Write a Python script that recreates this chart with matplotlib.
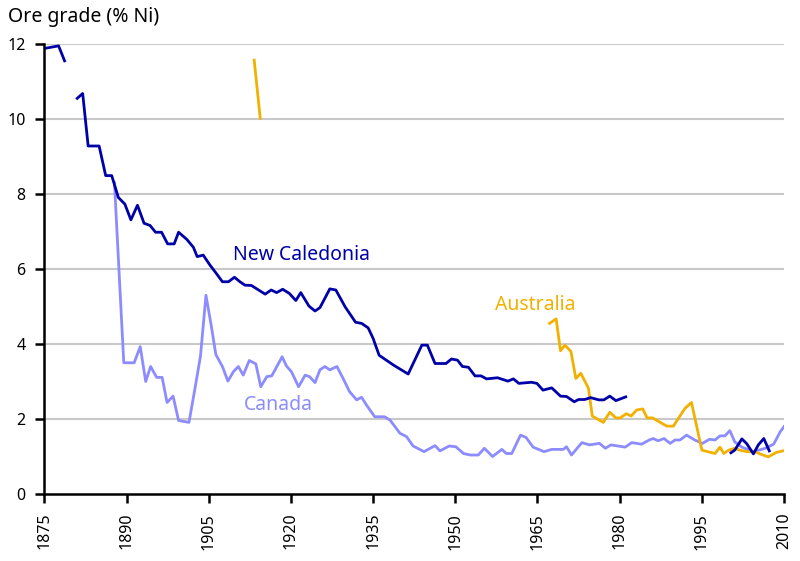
import numpy as np
import matplotlib
matplotlib.use("Agg")
import matplotlib.pyplot as plt

plt.rcParams['font.family'] = ['Noto Sans', 'DejaVu Sans']

nan = np.nan

# New Caledonia, with gaps where there is no data
nc_years = [1875, 1877.6, 1878.7, 1880,
            1881.0, 1882.0, 1883.0, 1885.0, 1886.2, 1887.3, 1888.5, 1889.7, 1890.8, 1892.0,
            1893.2, 1894.3, 1895.3, 1896.4, 1897.5, 1898.7, 1899.5, 1901.0, 1902.2, 1902.9,
            1904.0, 1905.2, 1906.5, 1907.5, 1908.6, 1909.7, 1910.7, 1911.6, 1912.8, 1914.1,
            1915.3, 1916.4, 1917.4, 1918.5, 1919.7, 1920.9, 1921.8, 1923.3, 1924.4, 1925.3,
            1927.1, 1928.2, 1929.9, 1931.8, 1932.9, 1934.1, 1935.0, 1936.1, 1938.7, 1941.4,
            1943.9, 1944.9, 1946.3, 1948.3, 1949.3, 1950.4, 1951.3, 1952.4, 1953.6, 1954.7,
            1955.7, 1957.7, 1959.6, 1960.6, 1961.6, 1963.9, 1964.9, 1966.0, 1967.6, 1969.2,
            1970.3, 1971.7, 1972.5, 1973.6, 1974.7, 1976.2, 1977.1, 1978.2, 1979.3, 1981.1,
            1990,
            2000.3, 2001.0, 2002.3, 2003.2, 2004.4, 2005.3, 2006.3, 2007.3]
nc_grade = [11.88, 11.95, 11.55, nan,
            10.55, 10.68, 9.28, 9.28, 8.49, 8.49, 7.91, 7.73, 7.31, 7.70,
            7.22, 7.16, 6.98, 6.98, 6.67, 6.67, 6.98, 6.79, 6.58, 6.33,
            6.37, 6.11, 5.86, 5.66, 5.66, 5.78, 5.66, 5.57, 5.56, 5.44,
            5.33, 5.44, 5.37, 5.46, 5.35, 5.16, 5.37, 5.01, 4.88, 4.97,
            5.47, 5.44, 4.99, 4.58, 4.55, 4.43, 4.15, 3.70, 3.44, 3.20,
            3.97, 3.97, 3.48, 3.48, 3.60, 3.57, 3.40, 3.38, 3.15, 3.15,
            3.07, 3.10, 3.01, 3.07, 2.95, 2.98, 2.95, 2.77, 2.83, 2.61,
            2.60, 2.46, 2.52, 2.52, 2.57, 2.51, 2.51, 2.61, 2.49, 2.59,
            nan,
            1.10, 1.17, 1.47, 1.34, 1.07, 1.31, 1.48, 1.15]

ca_years = [1887.8, 1889.5, 1891.4, 1892.5, 1893.5, 1894.4, 1895.5, 1896.5, 1897.4, 1898.5,
            1899.5, 1901.4, 1902.5, 1903.5, 1904.5, 1905.5, 1906.3, 1907.5, 1908.5, 1909.5,
            1910.4, 1911.3, 1912.4, 1913.6, 1914.5, 1915.6, 1916.5, 1918.4, 1919.2, 1920.1,
            1921.4, 1922.6, 1923.4, 1924.4, 1925.3, 1926.2, 1927.1, 1928.4, 1929.6, 1930.7,
            1932.0, 1932.9, 1933.8, 1935.3, 1937.1, 1938.1, 1939.9, 1941.1, 1942.3, 1944.3,
            1946.3, 1947.2, 1948.9, 1950.1, 1951.5, 1952.7, 1954.2, 1955.3, 1956.8, 1958.5,
            1959.3, 1960.3, 1961.9, 1962.9, 1964.2, 1966.2, 1967.6, 1969.7, 1970.3, 1971.2,
            1973.1, 1974.5, 1976.3, 1977.4, 1978.4, 1981.0, 1982.2, 1984.0, 1985.4, 1986.1,
            1987.0, 1988.1, 1989.2, 1990.1, 1991.0, 1992.2, 1993.7, 1995.1, 1996.4, 1997.4,
            1998.3, 1999.2, 2000.1, 2001.0, 2002.3, 2004.4, 2006.6, 2008.1, 2009.3, 2010.0]
ca_grade = [8.30, 3.50, 3.50, 3.93, 3.00, 3.40, 3.11, 3.11, 2.44, 2.61,
            1.96, 1.91, 2.82, 3.68, 5.30, 4.46, 3.72, 3.40, 3.01, 3.26,
            3.40, 3.17, 3.56, 3.47, 2.86, 3.13, 3.15, 3.66, 3.41, 3.26,
            2.86, 3.17, 3.13, 2.97, 3.31, 3.40, 3.31, 3.40, 3.06, 2.73,
            2.51, 2.58, 2.37, 2.06, 2.06, 1.97, 1.62, 1.53, 1.28, 1.13,
            1.29, 1.15, 1.28, 1.26, 1.08, 1.04, 1.04, 1.22, 1.00, 1.19,
            1.08, 1.08, 1.57, 1.51, 1.25, 1.13, 1.19, 1.19, 1.26, 1.04,
            1.37, 1.31, 1.35, 1.22, 1.31, 1.25, 1.37, 1.33, 1.44, 1.48,
            1.42, 1.48, 1.35, 1.44, 1.44, 1.57, 1.44, 1.35, 1.46, 1.44,
            1.55, 1.55, 1.69, 1.39, 1.25, 1.13, 1.22, 1.33, 1.66, 1.80]

au_years = [1913.3, 1914.4, 1940,
            1967.2, 1968.4, 1969.2, 1970.0, 1971.1, 1972.0, 1972.9, 1974.3, 1975.0, 1977.0,
            1978.2, 1979.3, 1980.1, 1981.2, 1982.1, 1983.1, 1984.2, 1985.0, 1986.0, 1987.4,
            1988.6, 1989.8, 1991.9, 1993.1, 1995.0, 1997.4, 1998.3, 1999.0, 1999.9, 2001.0,
            2001.9, 2003.2, 2004.7, 2005.6, 2007.1, 2008.6, 2009.8]
au_grade = [11.57, 10.02, nan,
            4.55, 4.67, 3.82, 3.97, 3.80, 3.08, 3.22, 2.82, 2.08, 1.91,
            2.18, 2.03, 2.03, 2.14, 2.08, 2.24, 2.27, 2.03, 2.03, 1.91,
            1.81, 1.81, 2.28, 2.44, 1.17, 1.08, 1.25, 1.08, 1.17, 1.22,
            1.17, 1.13, 1.13, 1.07, 0.99, 1.11, 1.15]

x_ticks = list(range(1875, 2011, 15))
y_ticks = list(range(0, 13, 2))

nc_color = '#0000a8'
ca_color = '#8c8cff'
au_color = '#f2b100'

fig = plt.figure(figsize=(8, 5.61), dpi=100)
ax = fig.add_axes([0.0554, 0.1194, 0.9247, 0.8022])

ax.plot(ca_years, ca_grade, color=ca_color, lw=2.0, zorder=3)
ax.plot(au_years, au_grade, color=au_color, lw=2.0, zorder=4)
ax.plot(nc_years, nc_grade, color=nc_color, lw=2.0, zorder=5)

ax.set_xlim(1875, 2010)
ax.set_ylim(0, 12)
ax.set_xticks(x_ticks)
ax.set_yticks(y_ticks)
ax.set_xticklabels([str(t) for t in x_ticks], rotation=90)
ax.tick_params(axis='both', direction='out', length=6.5, width=1.8, pad=7,
               labelsize=11.5, colors='black')
for yv in y_ticks[1:]:
    ax.axhline(yv, color='#c8c8c8', lw=1.5, zorder=1)

for s in ['top', 'right']:
    ax.spines[s].set_visible(False)
for s in ['left', 'bottom']:
    ax.spines[s].set_linewidth(1.8)
    ax.spines[s].set_zorder(6)
ax.spines['left'].set_capstyle('projecting')

ax.text(1909.4, 6.37, 'New Caledonia', color=nc_color, fontsize=14, ha='left', va='center')
ax.text(1911.4, 2.37, 'Canada', color=ca_color, fontsize=14, ha='left', va='center')
ax.text(1957.2, 5.04, 'Australia', color=au_color, fontsize=14, ha='left', va='center')

fig.text(0.01, 0.97, 'Ore grade (% Ni)', fontsize=14, ha='left', va='center')

fig.savefig('out.png', dpi=100)
